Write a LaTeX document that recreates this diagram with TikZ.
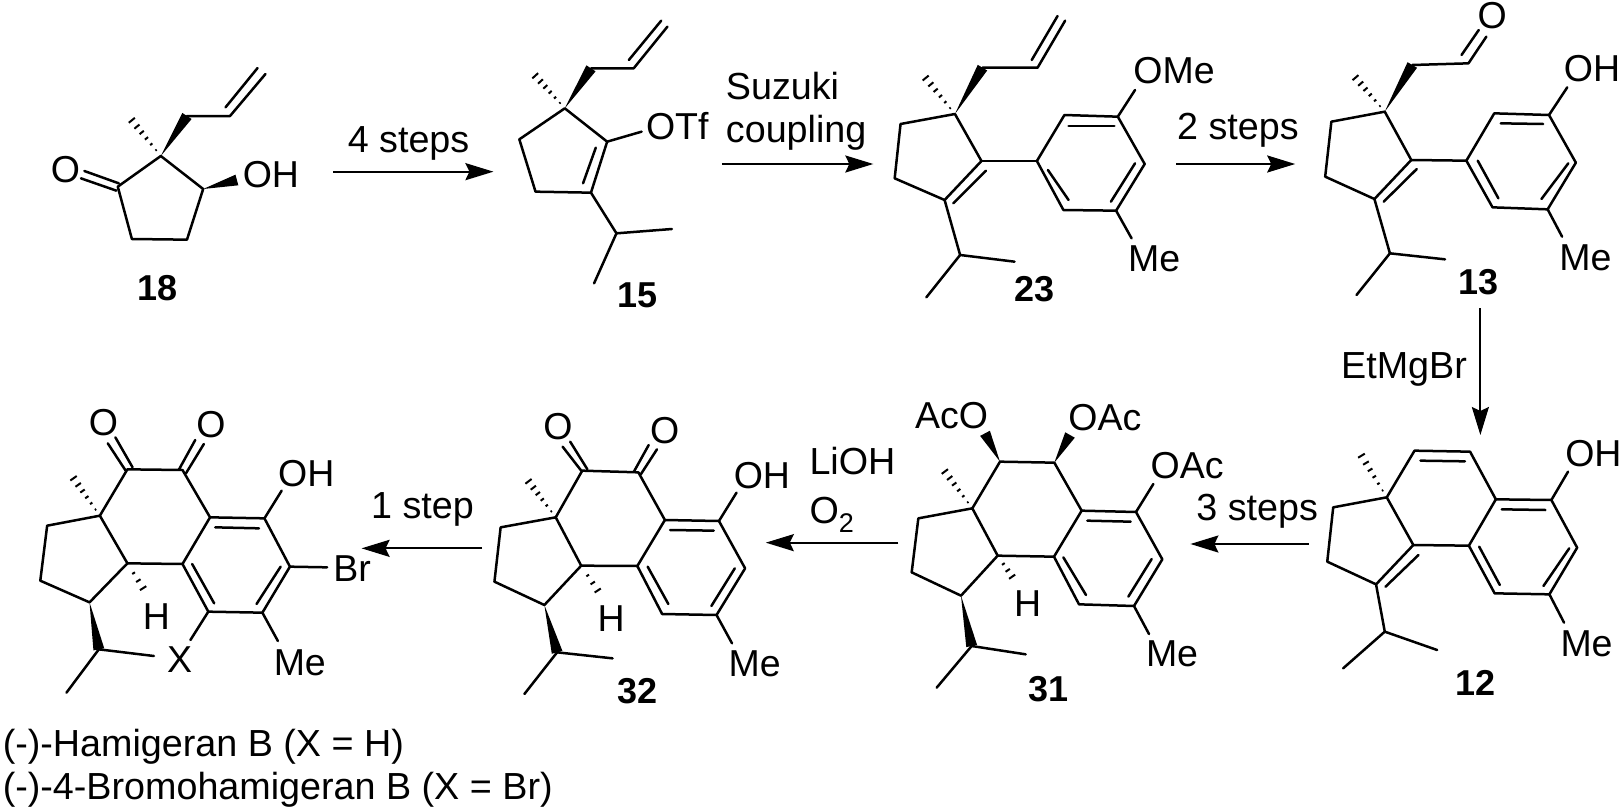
\documentclass[tikz,border=0pt]{standalone}
\usepackage{fontspec}
\setmainfont{Liberation Sans}
\usetikzlibrary{calc,arrows.meta}
\tikzset{
  bond/.style={line width=2.5pt,line join=round,line cap=round},
  rxn/.style={line width=2.2pt,-{Stealth[length=28pt,width=17pt,inset=4pt]}},
  lab/.style={inner sep=0pt,outer sep=0pt,anchor=base west,font=\fontsize{37.5}{44}\selectfont},
  num/.style={inner sep=0pt,outer sep=0pt,anchor=base west,font=\fontsize{36}{44}\selectfont\bfseries},
  txt/.style={inner sep=0pt,outer sep=0pt,anchor=base west,font=\fontsize{37.7}{44}\selectfont},
  zoomA/.style={x=0.34435pt,y=-0.33333pt},
  zoomF/.style={x=0.39667pt,y=-0.33333pt},
  zoomG/.style={x=0.33333pt,y=-0.33333pt}
}
\newcommand{\wedgeb}[2]{\fill ($(#1)$) -- ($(#2)!5.5pt!90:(#1)$) -- ($(#2)!5.5pt!-90:(#1)$) -- cycle;}
\newcommand{\hashb}[2]{\foreach \t/\w in {.14/0.8,.28/1.4,.42/2,.56/2.7,.70/3.3,.85/3.9,1/4.6}{
  \path ($(#1)!\t!(#2)$) coordinate (hh);
  \draw[line width=2pt] ($(hh)!\w pt!90:(#2)$) -- ($(hh)!\w pt!-90:(#2)$);}}
\newcommand{\hashh}[2]{\foreach \t/\w in {.3/1.6,.53/2.6,.76/3.7,1/4.8}{
  \path ($(#1)!\t!(#2)$) coordinate (hh);
  \draw[line width=2pt] ($(hh)!\w pt!90:(#2)$) -- ($(hh)!\w pt!-90:(#2)$);}}
\begin{document}
\begin{tikzpicture}[x=1pt,y=-1pt]
\useasboundingbox (0,0) rectangle (1622,809);

% ---------- 18 and first arrow
\begin{scope}[zoomA]
\coordinate (a1) at (467,468); \coordinate (a2) at (342,560); \coordinate (a3) at (383,717);
\coordinate (a4) at (543,719); \coordinate (a5) at (590,567); \coordinate (a6) at (543,348);
\coordinate (a7) at (668,348); \coordinate (a8) at (771,222); \coordinate (a9) at (368,342);
\coordinate (a10) at (688,540);
\draw[bond] (a1) -- (a2) -- (a3) -- (a4) -- (a5) -- cycle;
\draw[bond] (a6) -- (a7) -- (a8);
\draw[bond] (655,322) -- (748,204);
\draw[bond] (345,550) -- (245,513);
\draw[bond] (338,572) -- (235,535);
\wedgeb{a1}{a6}
\wedgeb{a5}{a10}
\hashb{a1}{a9}
\node[lab] (o18) at (148,548) {O};
\node[lab] (oh18) at (705,562) {OH};
\node[txt] (t1) at (1010,458) {4 steps};
\node[num] (n18) at (398,900) {18};
\coordinate (r1s) at (968,515); \coordinate (r1e) at (1433,515);
\draw[rxn] (r1s) -- (r1e);
\end{scope}

% ---------- 15, 23
\begin{scope}[zoomA,shift={(540pt,0pt)}]
\coordinate (b1) at (72,325); \coordinate (b2) at (-60,418); \coordinate (b3) at (-13,575);
\coordinate (b4) at (148,578); \coordinate (b5) at (195,425); \coordinate (b6) at (148,205);
\coordinate (b7) at (272,205); \coordinate (b8) at (370,80); \coordinate (b9) at (-29,210);
\coordinate (b10) at (222,700); \coordinate (b11) at (383,687); \coordinate (b12) at (157,850);
\coordinate (b13) at (295,395);
\draw[bond] (b1) -- (b2) -- (b3) -- (b4) -- (b5) -- cycle;
\draw[bond] (162,443) -- (125,550);
\draw[bond] (b5) -- (b13);
\draw[bond] (b6) -- (b7) -- (b8);
\draw[bond] (258,180) -- (352,62);
\draw[bond] (b4) -- (b10) -- (b11);
\draw[bond] (b10) -- (b12);
\wedgeb{b1}{b6}
\hashb{b1}{b9}
\node[lab] (otf) at (308,418) {OTf};
\node[num] (n15) at (225,922) {15};
\node[txt] (t2a) at (540,298) {Suzuki};
\node[txt] (t2b) at (540,428) {coupling};
\coordinate (r2s) at (528,492); \coordinate (r2e) at (968,492);
\draw[rxn] (r2s) -- (r2e);
%
\coordinate (c1) at (1205,342); \coordinate (c2) at (1047,372); \coordinate (c3) at (1030,535);
\coordinate (c4) at (1175,600); \coordinate (c5) at (1282,483); \coordinate (c6) at (1285,203);
\coordinate (c7) at (1445,203); \coordinate (c8) at (1525,62); \coordinate (c9) at (1105,215);
\coordinate (c10) at (1220,765); \coordinate (c11) at (1378,785); \coordinate (c12) at (1122,892);
\coordinate (c13) at (1443,483); \coordinate (c14) at (1523,345); \coordinate (c15) at (1678,350);
\coordinate (c16) at (1756,492); \coordinate (c17) at (1673,632); \coordinate (c18) at (1520,630);
\coordinate (c19) at (1728,270); \coordinate (c20) at (1718,715);
\draw[bond] (c1) -- (c2) -- (c3) -- (c4) -- (c5) -- cycle;
\draw[bond] (1200,610) -- (1295,512);
\draw[bond] (c6) -- (c7) -- (c8);
\draw[bond] (1428,180) -- (1503,48);
\draw[bond] (c4) -- (c10) -- (c11);
\draw[bond] (c10) -- (c12);
\draw[bond] (c5) -- (c13);
\draw[bond] (c13) -- (c14) -- (c15) -- (c16) -- (c17) -- (c18) -- cycle;
\draw[bond] (1535,378) -- (1668,378);
\draw[bond] (1728,490) -- (1658,605);
\draw[bond] (1475,510) -- (1535,600);
\draw[bond] (c15) -- (c19);
\draw[bond] (c17) -- (c20);
\wedgeb{c1}{c6}
\hashb{c1}{c9}
\node[num] (n23) at (1378,905) {23};
\end{scope}

% ---------- 13
\begin{scope}[zoomA,shift={(1080pt,0pt)}]
\node[lab] (ome) at (155,250) {OMe};
\node[lab] (me23) at (140,815) {Me};
\node[txt] (t3) at (282,418) {2 steps};
\coordinate (r3s) at (280,492); \coordinate (r3e) at (625,492);
\draw[rxn] (r3s) -- (r3e);
\coordinate (d1) at (885,335); \coordinate (d2) at (730,365); \coordinate (d3) at (712,530);
\coordinate (d4) at (855,597); \coordinate (d5) at (962,480); \coordinate (d6) at (965,195);
\coordinate (d7) at (1128,190); \coordinate (d8) at (1180,110); \coordinate (d9) at (785,215);
\coordinate (d10) at (900,760); \coordinate (d11) at (1060,778); \coordinate (d12) at (803,885);
\coordinate (d13) at (1122,482); \coordinate (d14) at (1203,340); \coordinate (d15) at (1362,345);
\coordinate (d16) at (1440,488); \coordinate (d17) at (1358,628); \coordinate (d18) at (1198,622);
\coordinate (d19) at (1415,262); \coordinate (d20) at (1400,710);
\draw[bond] (d1) -- (d2) -- (d3) -- (d4) -- (d5) -- cycle;
\draw[bond] (882,605) -- (978,507);
\draw[bond] (d6) -- (d7) -- (d8);
\draw[bond] (1108,165) -- (1158,90);
\draw[bond] (d4) -- (d10) -- (d11);
\draw[bond] (d10) -- (d12);
\draw[bond] (d5) -- (d13);
\draw[bond] (d13) -- (d14) -- (d15) -- (d16) -- (d17) -- (d18) -- cycle;
\draw[bond] (1222,370) -- (1345,372);
\draw[bond] (1418,490) -- (1340,597);
\draw[bond] (1155,482) -- (1215,595);
\draw[bond] (d15) -- (d19);
\draw[bond] (d17) -- (d20);
\wedgeb{d1}{d6}
\hashb{d1}{d9}
\node[lab] (o13) at (1155,85) {O};
\node[lab] (oh13) at (1405,245) {OH};
\node[lab] (me13) at (1392,810) {Me};
\node[num] (n13) at (1100,882) {13};
\end{scope}

% ---------- 12
\begin{scope}[zoomF,shift={(1000pt,-300pt)}]
\node[txt] (t4) at (860,235) {EtMgBr};
\coordinate (r4s) at (1211,25); \coordinate (r4e) at (1211,405);
\draw[rxn] (r4s) -- (r4e);
\node[txt] (t5) at (495,660) {3 steps};
\coordinate (r5s) at (778,732); \coordinate (r5e) at (480,732);
\draw[rxn] (r5s) -- (r5e);
\coordinate (e1) at (975,592); \coordinate (e2) at (840,622); \coordinate (e3) at (825,785);
\coordinate (e4) at (948,853); \coordinate (e5) at (1042,735); \coordinate (e6) at (1045,452);
\coordinate (e7) at (1185,455); \coordinate (e8) at (1250,598); \coordinate (e9) at (1182,737);
\coordinate (e10) at (1390,600); \coordinate (e11) at (1455,743); \coordinate (e12) at (1385,883);
\coordinate (e13) at (1247,880); \coordinate (e14) at (900,445); \coordinate (e15) at (970,995);
\coordinate (e16) at (1102,1050); \coordinate (e17) at (865,1105); \coordinate (e18) at (1432,515);
\coordinate (e19) at (1422,968);
\draw[bond] (e1) -- (e2) -- (e3) -- (e4) -- (e5) -- cycle;
\draw[bond] (972,860) -- (1055,765);
\draw[bond] (e1) -- (e6) -- (e7) -- (e8) -- (e9) -- (e5);
\draw[bond] (1060,482) -- (1172,484);
\draw[bond] (e8) -- (e10) -- (e11) -- (e12) -- (e13) -- (e9);
\draw[bond] (1265,628) -- (1375,630);
\draw[bond] (1435,745) -- (1370,858);
\draw[bond] (1260,855) -- (1208,740);
\draw[bond] (e4) -- (e15) -- (e16);
\draw[bond] (e15) -- (e17);
\draw[bond] (e10) -- (e18);
\draw[bond] (e12) -- (e19);
\hashb{e1}{e14}
\node[lab] (oh12) at (1425,500) {OH};
\node[lab] (me12) at (1413,1068) {Me};
\node[num] (n12) at (1148,1185) {12};
\end{scope}

% ---------- 31
\begin{scope}[zoomG,shift={(860pt,-370pt)}]
\coordinate (f1) at (337,415); \coordinate (f2) at (175,445); \coordinate (f3) at (155,607);
\coordinate (f4) at (303,677); \coordinate (f5) at (413,557); \coordinate (f6) at (420,275);
\coordinate (f7) at (583,278); \coordinate (f8) at (665,422); \coordinate (f9) at (582,560);
\coordinate (f10) at (828,426); \coordinate (f11) at (907,568); \coordinate (f12) at (822,708);
\coordinate (f13) at (657,703); \coordinate (f14) at (240,285); \coordinate (f15) at (335,828);
\coordinate (f16) at (497,853); \coordinate (f17) at (230,953); \coordinate (f18) at (375,190);
\coordinate (f19) at (630,195); \coordinate (f20) at (880,342); \coordinate (f21) at (867,792);
\coordinate (f22) at (470,640);
\draw[bond] (f1) -- (f2) -- (f3) -- (f4) -- (f5) -- cycle;
\draw[bond] (f1) -- (f6) -- (f7) -- (f8) -- (f9) -- (f5);
\draw[bond] (f8) -- (f10) -- (f11) -- (f12) -- (f13) -- (f9);
\draw[bond] (682,452) -- (812,455);
\draw[bond] (875,567) -- (805,680);
\draw[bond] (610,562) -- (678,675);
\draw[bond] (f15) -- (f16);
\draw[bond] (f15) -- (f17);
\draw[bond] (f10) -- (f20);
\draw[bond] (f12) -- (f21);
\wedgeb{f4}{f15}
\wedgeb{f6}{f18}
\wedgeb{f7}{f19}
\hashb{f1}{f14}
\hashh{f5}{f22}
\node[lab] (aco) at (165,175) {AcO};
\node[lab] (oac1) at (625,180) {OAc};
\node[lab] (oac2) at (872,325) {OAc};
\node[lab] (me31) at (858,890) {Me};
\node[lab] (h31) at (462,738) {H};
\node[num] (n31) at (505,995) {31};
\end{scope}

% ---------- 32
\begin{scope}[zoomA,shift={(460pt,-380pt)}]
\coordinate (g1) at (278,412); \coordinate (g2) at (118,442); \coordinate (g3) at (100,605);
\coordinate (g4) at (245,675); \coordinate (g5) at (352,557); \coordinate (g6) at (355,272);
\coordinate (g7) at (518,277); \coordinate (g8) at (595,420); \coordinate (g9) at (515,558);
\coordinate (g10) at (752,423); \coordinate (g11) at (828,565); \coordinate (g12) at (745,705);
\coordinate (g13) at (587,702); \coordinate (g14) at (185,285); \coordinate (g15) at (282,817);
\coordinate (g16) at (443,835); \coordinate (g17) at (187,942); \coordinate (g18) at (803,338);
\coordinate (g19) at (790,790); \coordinate (g20) at (415,655);
\draw[bond] (g1) -- (g2) -- (g3) -- (g4) -- (g5) -- cycle;
\draw[bond] (g1) -- (g6) -- (g7) -- (g8) -- (g9) -- (g5);
\draw[bond] (g8) -- (g10) -- (g11) -- (g12) -- (g13) -- (g9);
\draw[bond] (610,450) -- (737,452);
\draw[bond] (798,565) -- (730,678);
\draw[bond] (545,560) -- (605,672);
\draw[bond] (352,272) -- (298,200);
\draw[bond] (370,268) -- (320,185);
\draw[bond] (505,275) -- (548,195);
\draw[bond] (525,283) -- (572,208);
\draw[bond] (g15) -- (g16);
\draw[bond] (g15) -- (g17);
\draw[bond] (g10) -- (g18);
\draw[bond] (g12) -- (g19);
\wedgeb{g4}{g15}
\hashb{g1}{g14}
\hashh{g5}{g20}
\node[lab] (o32a) at (242,178) {O};
\node[lab] (o32b) at (552,190) {O};
\node[lab] (oh32) at (795,325) {OH};
\node[lab] (me32) at (780,888) {Me};
\node[lab] (h32) at (400,755) {H};
\node[num] (n32) at (458,970) {32};
\node[txt] (t6a) at (1015,283) {LiOH};
\node[txt] (t6b) at (1015,430) {O\raisebox{-9.5pt}{\fontsize{27}{27}\selectfont 2}};
\coordinate (r6s) at (1273,488); \coordinate (r6e) at (888,488);
\draw[rxn] (r6s) -- (r6e);
\end{scope}

% ---------- Hamigeran
\begin{scope}[zoomA,shift={(0pt,-380pt)}]
\coordinate (h1) at (290,407); \coordinate (h2) at (137,437); \coordinate (h3) at (117,602);
\coordinate (h4) at (260,667); \coordinate (h5) at (370,550); \coordinate (h6) at (370,268);
\coordinate (h7) at (530,270); \coordinate (h8) at (610,412); \coordinate (h9) at (530,552);
\coordinate (h10) at (768,415); \coordinate (h11) at (842,560); \coordinate (h12) at (762,698);
\coordinate (h13) at (605,695); \coordinate (h14) at (200,275); \coordinate (h15) at (287,808);
\coordinate (h16) at (447,828); \coordinate (h17) at (193,938); \coordinate (h18) at (818,332);
\coordinate (h19) at (807,783); \coordinate (h20) at (950,562); \coordinate (h21) at (553,780);
\coordinate (h22) at (430,648);
\draw[bond] (h1) -- (h2) -- (h3) -- (h4) -- (h5) -- cycle;
\draw[bond] (h1) -- (h6) -- (h7) -- (h8) -- (h9) -- (h5);
\draw[bond] (h8) -- (h10) -- (h11) -- (h12) -- (h13) -- (h9);
\draw[bond] (625,442) -- (752,445);
\draw[bond] (815,560) -- (745,672);
\draw[bond] (558,552) -- (622,670);
\draw[bond] (385,262) -- (335,172);
\draw[bond] (365,272) -- (313,190);
\draw[bond] (520,268) -- (567,180);
\draw[bond] (540,280) -- (592,192);
\draw[bond] (h15) -- (h16);
\draw[bond] (h15) -- (h17);
\draw[bond] (h10) -- (h18);
\draw[bond] (h12) -- (h19);
\draw[bond] (h11) -- (h20);
\draw[bond] (h13) -- (h21);
\wedgeb{h4}{h15}
\hashb{h1}{h14}
\hashh{h5}{h22}
\node[lab] (o1a) at (258,165) {O};
\node[lab] (o1b) at (570,172) {O};
\node[lab] (oh1) at (808,320) {OH};
\node[lab] (br1) at (968,603) {Br};
\node[lab] (me1) at (795,885) {Me};
\node[lab] (x1) at (485,878) {X};
\node[lab] (h1l) at (415,748) {H};
\node[txt] (t7) at (1078,415) {1 step};
\coordinate (r7s) at (1400,505); \coordinate (r7e) at (1050,505);
\draw[rxn] (r7s) -- (r7e);
\node[txt] (cap1) at (8,1128) {(-)-Hamigeran B (X = H)};
\node[txt] (cap2) at (8,1258) {(-)-4-Bromohamigeran B (X = Br)};
\end{scope}
\end{tikzpicture}
\end{document}
